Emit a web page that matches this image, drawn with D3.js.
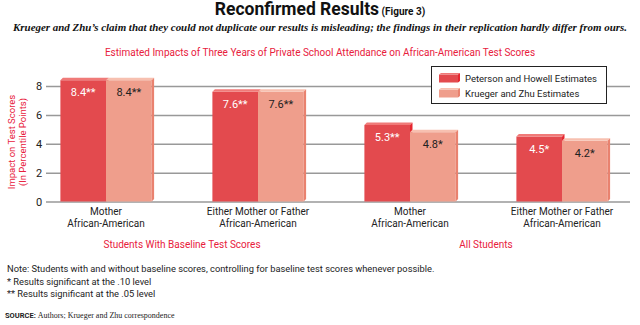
<!DOCTYPE html>
<html><head><meta charset="utf-8">
<script src="https://cdn.jsdelivr.net/npm/d3@7"></script>
<style>
body{margin:0;background:#fff;}
svg{display:block;}
text{font-family:Roboto, "DejaVu Sans", sans-serif;}
</style></head>
<body>
<svg id="c" width="640" height="325"></svg>
<script>
const categories = ["Mother|African-American","Either Mother or Father|African-American","Mother|African-American","Either Mother or Father|African-American"];
const seriesNames = ["Peterson and Howell Estimates","Krueger and Zhu Estimates"];
const phValues = [8.4, 7.6, 5.3, 4.5];
const kzValues = [8.4, 7.6, 4.8, 4.2];
const phLabels = ["8.4**","7.6**","5.3**","4.5*"];
const kzLabels = ["8.4**","7.6**","4.8*","4.2*"];
const groupNames = ["Students With Baseline Test Scores","All Students"];
const yTicks = [0,2,4,6,8];

const svg = d3.select("#c");
const red = "#e8203c";
const fills = [{main:"#e34a4e", top:"#f07a78", side:"#e6262f"},{main:"#ef9e8c", top:"#f7c0b0", side:"#e9826f"}];

// Titles
const t = svg.append("text").attr("x",320).attr("y",15).attr("text-anchor","middle");
t.append("tspan").text("Reconfirmed Results").attr("font-size",17.5).attr("font-weight","bold").attr("fill","#111");
t.append("tspan").text(" (Figure 3)").attr("font-size",10).attr("font-weight","bold").attr("fill","#111");
svg.append("text").attr("x",13).attr("y",31).attr("textLength",614).attr("lengthAdjust","spacingAndGlyphs")
  .style("font-family","'Liberation Serif', serif").attr("font-style","italic").attr("font-weight","bold").attr("font-size",10.9).attr("fill","#111")
  .text("Krueger and Zhu’s claim that they could not duplicate our results is misleading; the findings in their replication hardly differ from ours.");
svg.append("text").attr("x",320).attr("y",56).attr("text-anchor","middle").attr("font-size",10).attr("fill",red)
  .text("Estimated Impacts of Three Years of Private School Attendance on African-American Test Scores");

// Scales
const x0 = d3.scaleBand().domain(d3.range(categories.length)).range([30,638]).paddingInner(0.4).paddingOuter(0.2);
const x1 = d3.scaleBand().domain([0,1]).range([0,x0.bandwidth()]);
const y = d3.scaleLinear().domain([0,8]).range([201.5,86]);

// Grid
const yAxis = d3.axisLeft(y).tickValues(yTicks).tickSize(-(630-46)).tickFormat(d3.format("d")).tickPadding(5);
const ga = svg.append("g").attr("transform","translate(46,0)").call(yAxis);
ga.select(".domain").remove();
ga.selectAll(".tick line").attr("stroke","#999").attr("stroke-width",1.5);
ga.selectAll(".tick text").attr("font-size",11).attr("fill","#222").attr("text-anchor","middle").attr("dx",-2);

// Y label
const yl = svg.append("text").attr("transform","translate(0,142) rotate(-90)").attr("text-anchor","middle").attr("font-size",9.5).attr("fill",red);
yl.append("tspan").attr("x",0).attr("y",15).text("Impact on Test Scores");
yl.append("tspan").attr("x",0).attr("y",26).text("(In Percentile Points)");

// Bars
const data = [];
categories.forEach((c,i)=>{
  data.push({i, s:0, v:phValues[i], lab:phLabels[i]});
  data.push({i, s:1, v:kzValues[i], lab:kzLabels[i]});
});
const d = 2.5;
const bars = svg.append("g").selectAll("g").data(data).join("g");
bars.append("rect")
  .attr("x",e=>x0(e.i)+x1(e.s)).attr("y",e=>y(e.v))
  .attr("width",x1.bandwidth()).attr("height",e=>y(0)-y(e.v))
  .attr("fill",e=>fills[e.s].main);
bars.append("path").attr("fill",e=>fills[e.s].top).attr("d",e=>{
  const xa=x0(e.i)+x1(e.s), xb=xa+x1.bandwidth(), yt=y(e.v);
  return `M${xa},${yt}L${xa+d},${yt-d}L${xb+d},${yt-d}L${xb},${yt}Z`;});
bars.append("path").attr("fill",e=>fills[e.s].side).attr("d",e=>{
  const xb=x0(e.i)+x1(e.s)+x1.bandwidth(), yt=y(e.v);
  return `M${xb},${yt}L${xb+d},${yt-d}L${xb+d},${y(0)-d}L${xb},${y(0)}Z`;});
bars.append("text")
  .attr("x",e=>x0(e.i)+x1(e.s)+x1.bandwidth()/2).attr("y",e=>y(e.v)+16)
  .attr("text-anchor","middle").attr("font-size",11).attr("fill",e=>e.s===0?"#fff":"#222").text(e=>e.lab);

// Category labels
categories.forEach((c,i)=>{
  const parts=c.split("|");
  parts.forEach((p,k)=>{
    svg.append("text").attr("x",x0(i)+x0.bandwidth()/2).attr("y",215+k*12).attr("text-anchor","middle")
      .attr("font-size",10).attr("fill","#222").text(p);
  });
});
// Group labels
groupNames.forEach((g,k)=>{
  const cx=(x0(2*k)+x0(2*k+1)+x0.bandwidth())/2;
  svg.append("text").attr("x",cx).attr("y",248).attr("text-anchor","middle").attr("font-size",10).attr("fill",red).text(g);
});

// Legend
const lg = svg.append("g");
lg.append("rect").attr("x",431.5).attr("y",66.5).attr("width",175).attr("height",37).attr("fill","#fff").attr("stroke","#222").attr("stroke-width",1);
seriesNames.forEach((s,k)=>{
  const yy=73+k*15;
  lg.append("rect").attr("x",439).attr("y",yy+1.5).attr("width",19).attr("height",8).attr("fill",fills[k].main);
  lg.append("path").attr("fill",fills[k].top).attr("d",`M439,${yy+1.5}L441,${yy}L460,${yy}L458,${yy+1.5}Z`);
  lg.append("path").attr("fill",fills[k].side).attr("d",`M458,${yy+1.5}L460,${yy}L460,${yy+8}L458,${yy+9.5}Z`);
  lg.append("text").attr("x",465).attr("y",yy+9).attr("font-size",9.5).attr("fill","#222").text(s);
});

// Notes
const notes = ["Note: Students with and without baseline scores, controlling for baseline test scores whenever possible.","* Results significant at the .10 level","** Results significant at the .05 level"];
notes.forEach((n,k)=>{
  svg.append("text").attr("x",7).attr("y",272+k*12.5).attr("font-size",9.3).attr("fill","#222").text(n);
});
const src = svg.append("text").attr("x",5).attr("y",318).attr("font-size",7.5).attr("fill","#222");
src.append("tspan").attr("font-weight","bold").text("SOURCE: ");
src.append("tspan").style("font-family","'Liberation Serif', serif").attr("font-size",8).text("Authors; Krueger and Zhu correspondence");
</script>
</body></html>
